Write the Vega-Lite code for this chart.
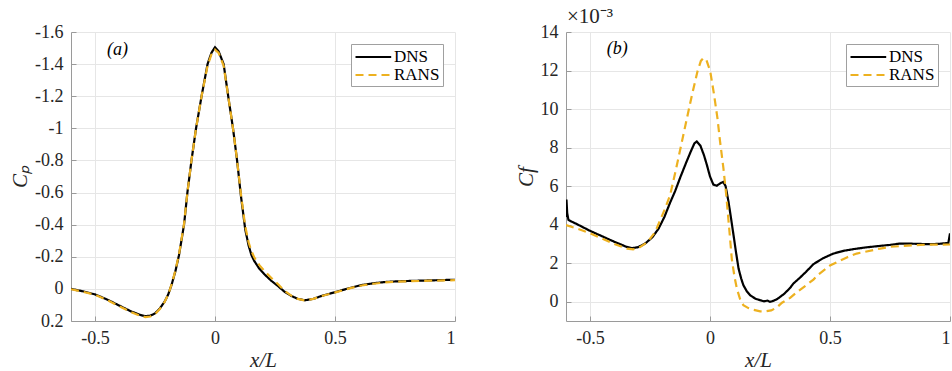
{
  "$schema": "https://vega.github.io/schema/vega-lite/v6.json",
  "autosize": {"type": "pad"},
  "padding": {"left": 9, "top": 6, "right": 2, "bottom": 2},
  "background": "white",
  "bounds": "flush",
  "spacing": 111,
  "config": {
    "view": {"stroke": null},
    "font": "Liberation Serif",
    "axis": {
      "labelFont": "Liberation Serif", "labelFontSize": 18, "labelColor": "#262626", "labelOverlap": false,
      "titleFont": "Liberation Serif", "titleFontStyle": "italic", "titleFontWeight": "normal",
      "titleFontSize": 21, "titleColor": "#262626",
      "gridColor": "#e6e6e6", "domainColor": "#9a9a9a", "ticks": true, "tickSize": -5, "tickColor": "#9a9a9a", "labelPadding": 13
    },
    "legend": {
      "orient": "top-right", "offset": 12, "labelFont": "Liberation Serif", "labelFontSize": 17,
      "labelColor": "#000000", "symbolType": "M-1,0H3.2", "symbolSize": 289, "symbolStrokeWidth": 2.2,
      "strokeColor": "#a0a0a0", "fillColor": "#ffffff", "padding": 3, "rowPadding": 0,
      "labelOffset": 20, "cornerRadius": 0
    }
  },
  "datasets": {
    "cp": [
      {"s":"DNS","x":-0.6,"y":0.0},{"s":"DNS","x":-0.55,"y":0.015},{"s":"DNS","x":-0.5,"y":0.034},{"s":"DNS","x":-0.45,"y":0.066},{"s":"DNS","x":-0.4,"y":0.103},{"s":"DNS","x":-0.35,"y":0.14},{"s":"DNS","x":-0.31,"y":0.163},{"s":"DNS","x":-0.29,"y":0.17},{"s":"DNS","x":-0.27,"y":0.167},{"s":"DNS","x":-0.25,"y":0.153},{"s":"DNS","x":-0.23,"y":0.122},{"s":"DNS","x":-0.21,"y":0.08},{"s":"DNS","x":-0.195,"y":0.035},{"s":"DNS","x":-0.18,"y":-0.03},{"s":"DNS","x":-0.165,"y":-0.11},{"s":"DNS","x":-0.15,"y":-0.21},{"s":"DNS","x":-0.14,"y":-0.3},{"s":"DNS","x":-0.129,"y":-0.4},{"s":"DNS","x":-0.115,"y":-0.6},{"s":"DNS","x":-0.098,"y":-0.8},{"s":"DNS","x":-0.079,"y":-1.0},{"s":"DNS","x":-0.056,"y":-1.2},{"s":"DNS","x":-0.031,"y":-1.4},{"s":"DNS","x":-0.015,"y":-1.47},{"s":"DNS","x":0.0,"y":-1.505},{"s":"DNS","x":0.015,"y":-1.48},{"s":"DNS","x":0.036,"y":-1.4},{"s":"DNS","x":0.055,"y":-1.2},{"s":"DNS","x":0.075,"y":-1.0},{"s":"DNS","x":0.092,"y":-0.8},{"s":"DNS","x":0.108,"y":-0.58},{"s":"DNS","x":0.126,"y":-0.37},{"s":"DNS","x":0.14,"y":-0.27},{"s":"DNS","x":0.152,"y":-0.21},{"s":"DNS","x":0.164,"y":-0.173},{"s":"DNS","x":0.185,"y":-0.125},{"s":"DNS","x":0.206,"y":-0.091},{"s":"DNS","x":0.235,"y":-0.05},{"s":"DNS","x":0.262,"y":-0.018},{"s":"DNS","x":0.29,"y":0.018},{"s":"DNS","x":0.318,"y":0.044},{"s":"DNS","x":0.345,"y":0.062},{"s":"DNS","x":0.374,"y":0.071},{"s":"DNS","x":0.41,"y":0.062},{"s":"DNS","x":0.444,"y":0.044},{"s":"DNS","x":0.506,"y":0.018},{"s":"DNS","x":0.56,"y":-0.005},{"s":"DNS","x":0.611,"y":-0.024},{"s":"DNS","x":0.66,"y":-0.035},{"s":"DNS","x":0.709,"y":-0.043},{"s":"DNS","x":0.76,"y":-0.047},{"s":"DNS","x":0.821,"y":-0.05},{"s":"DNS","x":0.9,"y":-0.053},{"s":"DNS","x":1.0,"y":-0.057},
      {"s":"RANS","x":-0.6,"y":0.002},{"s":"RANS","x":-0.55,"y":0.018},{"s":"RANS","x":-0.5,"y":0.037},{"s":"RANS","x":-0.45,"y":0.069},{"s":"RANS","x":-0.4,"y":0.107},{"s":"RANS","x":-0.35,"y":0.145},{"s":"RANS","x":-0.31,"y":0.168},{"s":"RANS","x":-0.29,"y":0.176},{"s":"RANS","x":-0.27,"y":0.172},{"s":"RANS","x":-0.25,"y":0.157},{"s":"RANS","x":-0.23,"y":0.125},{"s":"RANS","x":-0.21,"y":0.082},{"s":"RANS","x":-0.195,"y":0.035},{"s":"RANS","x":-0.18,"y":-0.032},{"s":"RANS","x":-0.165,"y":-0.115},{"s":"RANS","x":-0.15,"y":-0.215},{"s":"RANS","x":-0.14,"y":-0.305},{"s":"RANS","x":-0.129,"y":-0.405},{"s":"RANS","x":-0.115,"y":-0.6},{"s":"RANS","x":-0.098,"y":-0.8},{"s":"RANS","x":-0.079,"y":-1.0},{"s":"RANS","x":-0.056,"y":-1.2},{"s":"RANS","x":-0.031,"y":-1.39},{"s":"RANS","x":-0.015,"y":-1.46},{"s":"RANS","x":0.0,"y":-1.49},{"s":"RANS","x":0.015,"y":-1.47},{"s":"RANS","x":0.036,"y":-1.39},{"s":"RANS","x":0.055,"y":-1.2},{"s":"RANS","x":0.075,"y":-1.0},{"s":"RANS","x":0.092,"y":-0.8},{"s":"RANS","x":0.108,"y":-0.59},{"s":"RANS","x":0.126,"y":-0.39},{"s":"RANS","x":0.14,"y":-0.29},{"s":"RANS","x":0.152,"y":-0.235},{"s":"RANS","x":0.164,"y":-0.195},{"s":"RANS","x":0.185,"y":-0.148},{"s":"RANS","x":0.206,"y":-0.112},{"s":"RANS","x":0.235,"y":-0.068},{"s":"RANS","x":0.262,"y":-0.03},{"s":"RANS","x":0.29,"y":0.012},{"s":"RANS","x":0.318,"y":0.042},{"s":"RANS","x":0.345,"y":0.062},{"s":"RANS","x":0.374,"y":0.072},{"s":"RANS","x":0.41,"y":0.062},{"s":"RANS","x":0.444,"y":0.045},{"s":"RANS","x":0.506,"y":0.02},{"s":"RANS","x":0.56,"y":-0.003},{"s":"RANS","x":0.611,"y":-0.021},{"s":"RANS","x":0.66,"y":-0.032},{"s":"RANS","x":0.709,"y":-0.04},{"s":"RANS","x":0.76,"y":-0.045},{"s":"RANS","x":0.821,"y":-0.048},{"s":"RANS","x":0.9,"y":-0.051},{"s":"RANS","x":1.0,"y":-0.054}
    ],
    "cf": [
      {"s":"DNS","x":-0.6,"y":4.4},{"s":"DNS","x":-0.598,"y":5.3},{"s":"DNS","x":-0.595,"y":4.6},{"s":"DNS","x":-0.59,"y":4.25},{"s":"DNS","x":-0.575,"y":4.15},{"s":"DNS","x":-0.55,"y":4.0},{"s":"DNS","x":-0.5,"y":3.68},{"s":"DNS","x":-0.45,"y":3.4},{"s":"DNS","x":-0.4,"y":3.12},{"s":"DNS","x":-0.35,"y":2.86},{"s":"DNS","x":-0.325,"y":2.78},{"s":"DNS","x":-0.3,"y":2.83},{"s":"DNS","x":-0.27,"y":3.02},{"s":"DNS","x":-0.24,"y":3.35},{"s":"DNS","x":-0.214,"y":3.8},{"s":"DNS","x":-0.19,"y":4.4},{"s":"DNS","x":-0.166,"y":5.15},{"s":"DNS","x":-0.145,"y":5.75},{"s":"DNS","x":-0.124,"y":6.45},{"s":"DNS","x":-0.1,"y":7.2},{"s":"DNS","x":-0.08,"y":7.8},{"s":"DNS","x":-0.065,"y":8.22},{"s":"DNS","x":-0.055,"y":8.32},{"s":"DNS","x":-0.04,"y":8.1},{"s":"DNS","x":-0.025,"y":7.6},{"s":"DNS","x":-0.013,"y":7.1},{"s":"DNS","x":0.0,"y":6.5},{"s":"DNS","x":0.014,"y":6.08},{"s":"DNS","x":0.028,"y":6.02},{"s":"DNS","x":0.042,"y":6.14},{"s":"DNS","x":0.055,"y":6.22},{"s":"DNS","x":0.065,"y":6.0},{"s":"DNS","x":0.077,"y":5.2},{"s":"DNS","x":0.088,"y":4.3},{"s":"DNS","x":0.098,"y":3.46},{"s":"DNS","x":0.108,"y":2.6},{"s":"DNS","x":0.119,"y":1.72},{"s":"DNS","x":0.13,"y":1.2},{"s":"DNS","x":0.139,"y":0.86},{"s":"DNS","x":0.153,"y":0.55},{"s":"DNS","x":0.167,"y":0.34},{"s":"DNS","x":0.19,"y":0.15},{"s":"DNS","x":0.209,"y":0.08},{"s":"DNS","x":0.225,"y":0.02},{"s":"DNS","x":0.24,"y":0.06},{"s":"DNS","x":0.25,"y":-0.01},{"s":"DNS","x":0.265,"y":0.05},{"s":"DNS","x":0.28,"y":0.14},{"s":"DNS","x":0.292,"y":0.25},{"s":"DNS","x":0.31,"y":0.42},{"s":"DNS","x":0.334,"y":0.72},{"s":"DNS","x":0.347,"y":0.94},{"s":"DNS","x":0.375,"y":1.25},{"s":"DNS","x":0.4,"y":1.55},{"s":"DNS","x":0.431,"y":1.95},{"s":"DNS","x":0.47,"y":2.25},{"s":"DNS","x":0.514,"y":2.5},{"s":"DNS","x":0.56,"y":2.65},{"s":"DNS","x":0.597,"y":2.73},{"s":"DNS","x":0.65,"y":2.82},{"s":"DNS","x":0.709,"y":2.9},{"s":"DNS","x":0.75,"y":2.95},{"s":"DNS","x":0.792,"y":3.02},{"s":"DNS","x":0.85,"y":3.01},{"s":"DNS","x":0.903,"y":2.99},{"s":"DNS","x":0.95,"y":3.0},{"s":"DNS","x":0.993,"y":3.05},{"s":"DNS","x":1.0,"y":3.55},
      {"s":"RANS","x":-0.6,"y":3.98},{"s":"RANS","x":-0.55,"y":3.78},{"s":"RANS","x":-0.5,"y":3.55},{"s":"RANS","x":-0.436,"y":3.2},{"s":"RANS","x":-0.4,"y":3.0},{"s":"RANS","x":-0.346,"y":2.76},{"s":"RANS","x":-0.32,"y":2.72},{"s":"RANS","x":-0.298,"y":2.78},{"s":"RANS","x":-0.26,"y":3.1},{"s":"RANS","x":-0.228,"y":3.63},{"s":"RANS","x":-0.187,"y":4.84},{"s":"RANS","x":-0.166,"y":5.54},{"s":"RANS","x":-0.141,"y":6.92},{"s":"RANS","x":-0.117,"y":8.31},{"s":"RANS","x":-0.096,"y":9.53},{"s":"RANS","x":-0.075,"y":10.74},{"s":"RANS","x":-0.052,"y":11.96},{"s":"RANS","x":-0.038,"y":12.5},{"s":"RANS","x":-0.027,"y":12.65},{"s":"RANS","x":-0.015,"y":12.55},{"s":"RANS","x":0.001,"y":11.96},{"s":"RANS","x":0.017,"y":10.74},{"s":"RANS","x":0.031,"y":9.53},{"s":"RANS","x":0.042,"y":8.31},{"s":"RANS","x":0.056,"y":6.92},{"s":"RANS","x":0.068,"y":5.5},{"s":"RANS","x":0.08,"y":3.8},{"s":"RANS","x":0.091,"y":2.2},{"s":"RANS","x":0.102,"y":1.3},{"s":"RANS","x":0.112,"y":0.68},{"s":"RANS","x":0.125,"y":0.15},{"s":"RANS","x":0.139,"y":-0.18},{"s":"RANS","x":0.16,"y":-0.33},{"s":"RANS","x":0.181,"y":-0.42},{"s":"RANS","x":0.209,"y":-0.5},{"s":"RANS","x":0.23,"y":-0.5},{"s":"RANS","x":0.255,"y":-0.45},{"s":"RANS","x":0.278,"y":-0.3},{"s":"RANS","x":0.3,"y":-0.05},{"s":"RANS","x":0.334,"y":0.2},{"s":"RANS","x":0.362,"y":0.5},{"s":"RANS","x":0.4,"y":0.85},{"s":"RANS","x":0.431,"y":1.15},{"s":"RANS","x":0.45,"y":1.4},{"s":"RANS","x":0.5,"y":1.88},{"s":"RANS","x":0.57,"y":2.3},{"s":"RANS","x":0.611,"y":2.5},{"s":"RANS","x":0.709,"y":2.76},{"s":"RANS","x":0.75,"y":2.85},{"s":"RANS","x":0.847,"y":2.93},{"s":"RANS","x":0.9,"y":2.96},{"s":"RANS","x":1.0,"y":2.97}
    ]
  },
  "hconcat": [
    {
      "width": 384, "height": 289,
      "layer": [
        {
          "data": {"name": "cp"},
          "mark": {"type": "line", "strokeWidth": 2.2, "clip": true},
          "encoding": {
            "x": {"field": "x", "type": "quantitative", "scale": {"domain": [-0.6, 1], "nice": false, "zero": false},
                  "axis": {"values": [-0.5, 0, 0.5, 1], "tickCount": 4, "title": "x/L", "titlePadding": 2, "labelOverlap": false, "labelFont": "Liberation Serif", "labelExpr": "replace(format(datum.value, '~g'), '\u2212', '-')"}},
            "y": {"field": "y", "type": "quantitative", "scale": {"domain": [0.2, -1.6], "nice": false, "zero": false},
                  "axis": {"values": [0.2, 0, -0.2, -0.4, -0.6, -0.8, -1, -1.2, -1.4, -1.6], "tickCount": 10, "title": "Cₚ", "labelOverlap": false, "labelBound": false, "labelFont": "Liberation Serif", "labelExpr": "replace(format(datum.value, '~g'), '\u2212', '-')"}},
            "color": {"field": "s", "type": "nominal", "scale": {"domain": ["DNS", "RANS"], "range": ["#000000", "#EDB120"]}, "legend": {"title": null}},
            "strokeDash": {"field": "s", "type": "nominal", "scale": {"domain": ["DNS", "RANS"], "range": [[1, 0], [8, 5]]}, "legend": {"title": null}}
          }
        },
        {
          "data": {"values": [{"x": -0.45, "y": -1.49, "t": "(a)"}]},
          "mark": {"type": "text", "align": "left", "baseline": "middle", "fontStyle": "italic", "fontSize": 18, "font": "Liberation Serif", "color": "#000000"},
          "encoding": {
            "x": {"field": "x", "type": "quantitative"},
            "y": {"field": "y", "type": "quantitative"},
            "text": {"field": "t"}
          }
        }
      ]
    },
    {
      "width": 384, "height": 289,
      "layer": [
        {
          "data": {"name": "cf"},
          "mark": {"type": "line", "strokeWidth": 2.2, "clip": true},
          "encoding": {
            "x": {"field": "x", "type": "quantitative", "scale": {"domain": [-0.6, 1], "nice": false, "zero": false},
                  "axis": {"values": [-0.5, 0, 0.5, 1], "tickCount": 4, "title": "x/L", "titlePadding": 2, "labelOverlap": false, "labelFont": "Liberation Serif", "labelExpr": "replace(format(datum.value, '~g'), '\u2212', '-')"}},
            "y": {"field": "y", "type": "quantitative", "scale": {"domain": [-1, 14], "nice": false, "zero": false},
                  "axis": {"values": [0, 2, 4, 6, 8, 10, 12, 14], "tickCount": 8, "title": "Cf", "labelOverlap": false, "labelFont": "Liberation Serif", "labelExpr": "replace(format(datum.value, '~g'), '\u2212', '-')"}},
            "color": {"field": "s", "type": "nominal", "scale": {"domain": ["DNS", "RANS"], "range": ["#000000", "#EDB120"]}, "legend": {"title": null}},
            "strokeDash": {"field": "s", "type": "nominal", "scale": {"domain": ["DNS", "RANS"], "range": [[1, 0], [8, 5]]}, "legend": {"title": null}}
          }
        },
        {
          "data": {"values": [{"x": -0.43, "y": 13.1, "t": "(b)"}]},
          "mark": {"type": "text", "align": "left", "baseline": "middle", "fontStyle": "italic", "fontSize": 18, "font": "Liberation Serif", "color": "#000000"},
          "encoding": {
            "x": {"field": "x", "type": "quantitative"},
            "y": {"field": "y", "type": "quantitative"},
            "text": {"field": "t"}
          }
        },
        {
          "data": {"values": [{"x": -0.6, "y": 14, "t": "×10⁻³"}]},
          "mark": {"type": "text", "align": "left", "baseline": "bottom", "dy": -5, "dx": 1, "fontSize": 21, "font": "Liberation Serif", "color": "#262626", "clip": false},
          "encoding": {
            "x": {"field": "x", "type": "quantitative"},
            "y": {"field": "y", "type": "quantitative"},
            "text": {"field": "t"}
          }
        }
      ]
    }
  ],
  "resolve": {"scale": {"color": "independent", "strokeDash": "independent"}, "legend": {"color": "independent", "strokeDash": "independent"}}
}
